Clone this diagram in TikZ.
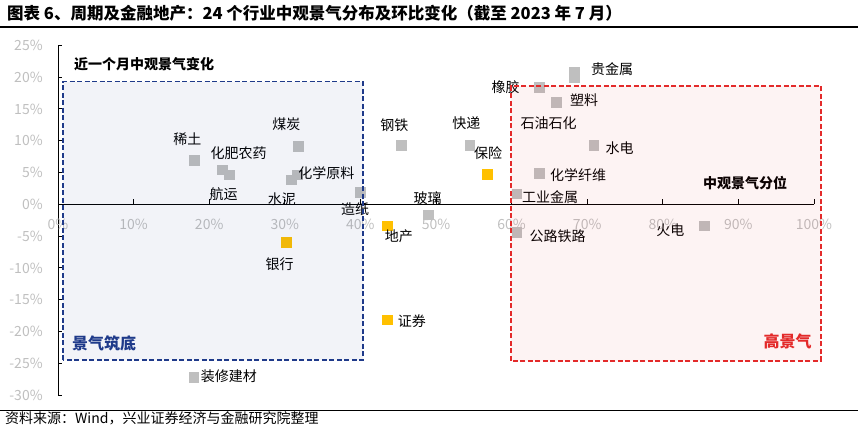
\documentclass[tikz,border=0pt]{standalone}
\usepackage{fontspec}
\setmainfont{Noto Sans CJK SC}
\usetikzlibrary{positioning}

\definecolor{mkgray}{HTML}{BFBFBF}
\definecolor{mkgold}{HTML}{FFC000}
\definecolor{lowblue}{HTML}{1F3A8A}
\definecolor{highred}{HTML}{E32A2A}
\definecolor{tickgray}{HTML}{BFBFBF}

\tikzset{
    rule/.style={line width=1.3bp, black},
    axis/.style={line width=0.9bp, black},
    titletext/.style={font=\fontsize{16.5bp}{18bp}\selectfont\bfseries, inner sep=0pt},
    foottext/.style={font=\fontsize{14bp}{16bp}\selectfont, inner sep=0pt},
    ticklbl/.style={font=\fontsize{14bp}{16bp}\selectfont, text=tickgray, inner sep=0pt},
    lbl/.style={font=\fontsize{14bp}{16bp}\selectfont, inner sep=0pt},
    headlbl/.style={font=\fontsize{14bp}{16bp}\selectfont\bfseries, inner sep=0pt},
    boxlbl/.style={font=\fontsize{16bp}{18bp}\selectfont\bfseries, inner sep=0pt},
    mk/.style={fill=mkgray, minimum size=10.7bp, inner sep=0pt},
    mkfin/.style={mk, fill=mkgold},
    lowbox/.style={draw=lowblue, line width=1.8bp, dash pattern=on 5bp off 2.5bp, fill=lowblue, fill opacity=0.06},
    highbox/.style={draw=highred, line width=1.8bp, dash pattern=on 5bp off 2.5bp, fill=highred, fill opacity=0.055},
}

\begin{document}
\begin{tikzpicture}[x=1bp,y=1bp]
    \useasboundingbox (0,-427) rectangle (858,0);
    \node[titletext, anchor=west] (title) at (7,-13.5) {图表 6、周期及金融地产：24 个行业中观景气分布及环比变化（截至 2023 年 7 月）};
    \draw[rule] (0,-27) -- (858,-27);
    \draw[rule] (0,-410.3) -- (858,-410.3);
    \node[foottext, anchor=west] (source) at (5,-418.5) {资料来源：Wind，兴业证券经济与金融研究院整理};

    \begin{scope}[shift={(58bp,-204.3bp)}, x=7.56bp, y=6.36bp]
        % axes
        \draw[axis] (0,-30) -- (0,25);
        \draw[axis] (0,0) -- (100,0);
        \foreach \v in {-30,-25,...,25} {
            \draw[axis] (0,\v) -- ++(4bp,0);
            \node[ticklbl, anchor=east] (ty\v) at (-2,\v) {\v\%};
        }
        \foreach \v in {10,20,...,100}
            \draw[axis] (\v,0) -- ++(0,5bp);
        \foreach \v in {0,10,...,100}
            \node[ticklbl] (tx\v) at (\v,-3.15) {\v\%};

        % industries
        \node[mk] (xitu) at (18.1,6.9) {};
        \node[mk] (huafei) at (21.8,5.4) {};
        \node[mk] (hangyun) at (22.7,4.6) {};
        \node[mk] (meitan) at (31.8,9.1) {};
        \node[mk] (shuini) at (30.9,3.8) {};
        \node[mk] (huaxue) at (31.7,4.6) {};
        \node[mk] (zaozhi) at (40.0,1.9) {};
        \node[mkfin] (yinhang) at (30.2,-6.0) {};
        \node[mk] (gangtie) at (45.4,9.3) {};
        \node[mkfin] (dichan) at (43.6,-3.4) {};
        \node[mk] (boli) at (49.0,-1.7) {};
        \node[mk] (kuaidi) at (54.5,9.3) {};
        \node[mkfin] (baoxian) at (56.8,4.7) {};
        \node[mk] (xiangjiao) at (63.7,18.4) {};
        \node[mk] (suliao) at (65.9,16.0) {};
        \node[mk] (guijinshu) at (68.3,20.7) {};
        \node[mk] (shiyou) at (68.3,19.9) {};
        \node[mk] (shuidian) at (70.9,9.3) {};
        \node[mk] (xianwei) at (63.7,4.8) {};
        \node[mk] (gongye) at (60.7,1.6) {};
        \node[mk] (gonglu) at (60.7,-4.4) {};
        \node[mk] (huodian) at (85.5,-3.4) {};
        \node[mkfin] (zhengquan) at (43.6,-18.2) {};
        \node[mk] (zhuangxiu) at (18.0,-27.2) {};

        \node[lbl] (l-xitu) at (17.1,10.2) {稀土};
        \node[lbl] (l-huafei) at (23.9,8.1) {化肥农药};
        \node[lbl] (l-hangyun) at (21.9,1.6) {航运};
        \node[lbl] (l-meitan) at (30.2,12.6) {煤炭};
        \node[lbl] (l-shuini) at (29.6,0.8) {水泥};
        \node[lbl] (l-huaxue) at (35.5,4.9) {化学原料};
        \node[lbl] (l-zaozhi) at (39.3,-0.8) {造纸};
        \node[lbl] (l-yinhang) at (29.3,-9.4) {银行};
        \node[lbl] (l-gangtie) at (44.5,12.5) {钢铁};
        \node[lbl] (l-dichan) at (45.1,-5.0) {地产};
        \node[lbl] (l-boli) at (48.9,0.9) {玻璃};
        \node[lbl] (l-kuaidi) at (54.0,12.7) {快递};
        \node[lbl] (l-baoxian) at (56.9,8.0) {保险};
        \node[lbl] (l-xiangjiao) at (59.2,18.4) {橡胶};
        \node[lbl] (l-suliao) at (69.6,16.3) {塑料};
        \node[lbl] (l-guijinshu) at (73.3,21.3) {贵金属};
        \node[lbl] (l-shiyou) at (64.9,12.8) {石油石化};
        \node[lbl] (l-shuidian) at (74.3,8.9) {水电};
        \node[lbl] (l-xianwei) at (68.8,4.6) {化学纤维};
        \node[lbl] (l-gongye) at (65.1,1.2) {工业金属};
        \node[lbl] (l-gonglu) at (66.1,-5.0) {公路铁路};
        \node[lbl] (l-huodian) at (81.0,-4.0) {火电};
        \node[lbl] (l-zhengquan) at (46.8,-18.3) {证券};
        \node[lbl] (l-zhuangxiu) at (22.6,-27.1) {装修建材};

        \node[headlbl] (change) at (11.4,22.1) {近一个月中观景气变化};
        \node[headlbl] (pctl) at (90.9,3.3) {中观景气分位};

        % zones
        \draw[lowbox] (0.7,-24.5) rectangle (40.3,19.3);
        \draw[highbox] (59.9,-24.6) rectangle (100.9,18.6);
        \node[boxlbl, text=lowblue] (low) at (6.1,-21.9) {景气筑底};
        \node[boxlbl, text=highred] (high) at (96.5,-21.6) {高景气};
    \end{scope}
\end{tikzpicture}
\end{document}
